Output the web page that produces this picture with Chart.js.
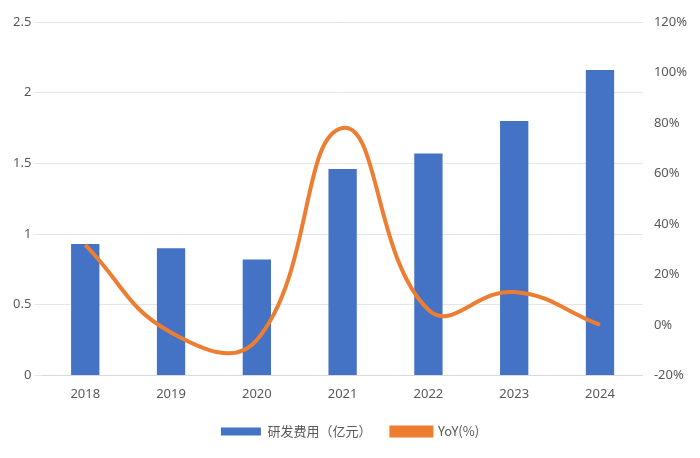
<!DOCTYPE html>
<html><head><meta charset="utf-8">
<script src="https://cdn.jsdelivr.net/npm/chart.js@4"></script>
<style>body{margin:0;background:#fff}#w{width:700px;height:458px}</style>
</head><body><div id="w"><canvas id="c"></canvas></div>
<script>
const categories=['2018','2019','2020','2021','2022','2023','2024'];
const rdExpense=[0.93,0.90,0.82,1.46,1.57,1.80,2.16];
const yoy=[31.7,-3,-6,78,6,13,0];
new Chart(document.getElementById('c'),{
data:{labels:categories,datasets:[
{type:'bar',label:'研发费用（亿元）',data:rdExpense,backgroundColor:'#4472C4',yAxisID:'y',barPercentage:0.33,categoryPercentage:1,order:2},
{type:'line',label:'YoY(%)',data:yoy,borderColor:'#ED7D31',backgroundColor:'#ED7D31',borderWidth:4,pointRadius:0,tension:0.45,yAxisID:'y1',order:1}
]},
options:{responsive:true,maintainAspectRatio:false,animation:false,
layout:{padding:{left:10,right:10,top:22,bottom:10}},
plugins:{legend:{position:'bottom',labels:{sort:(a,b)=>a.datasetIndex-b.datasetIndex,font:{family:'Noto Sans CJK SC',size:13},color:'#595959',boxWidth:40,boxHeight:8,padding:20}},tooltip:{enabled:false}},
scales:{
x:{grid:{display:false},border:{color:'#d9d9d9'},ticks:{font:{family:'Noto Sans',size:13},color:'#595959'}},
y:{position:'left',min:0,max:2.5,ticks:{stepSize:0.5,callback:v=>String(v),font:{family:'Noto Sans',size:13},color:'#595959'},grid:{color:'#e6e6e6'},border:{display:false}},
y1:{position:'right',min:-20,max:120,ticks:{stepSize:20,callback:v=>v+'%',font:{family:'Noto Sans',size:13},color:'#595959'},grid:{display:false},border:{display:false}}
}}});
</script></body></html>
